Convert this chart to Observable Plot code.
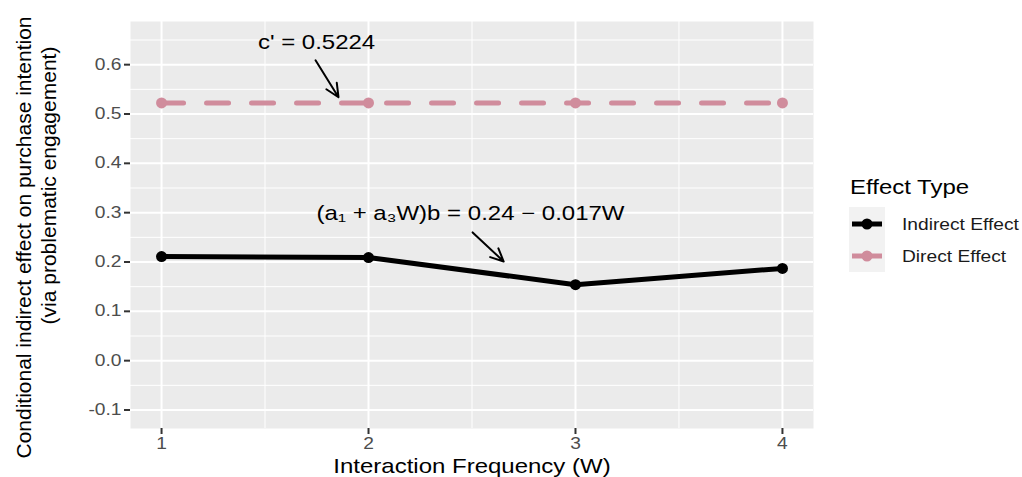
<!DOCTYPE html>
<html>
<head>
<meta charset="utf-8">
<script src="https://cdn.jsdelivr.net/npm/d3@7"></script>
<script src="https://cdn.jsdelivr.net/npm/@observablehq/plot@0.6"></script>
<style>
  html, body { margin: 0; padding: 0; background: white; }
  #wrap { position: relative; width: 1022px; height: 477px; font-family: "Liberation Sans", Arial, sans-serif; }
  #legend { position: absolute; left: 0; top: 0; pointer-events: none; }
</style>
</head>
<body>
<div id="wrap"></div>
<script>
// ---- data ----
const xValues = [1, 2, 3, 4];
const indirectValues = [0.211, 0.209, 0.154, 0.187];
const directValues = [0.5224, 0.5224, 0.5224, 0.5224];
const seriesNames = ["Indirect Effect", "Direct Effect"];
const seriesColors = ["#000000", "#D08C9C"];
const legendTitle = "Effect Type";
const xTicks = [1, 2, 3, 4];
const yTicks = [-0.1, 0, 0.1, 0.2, 0.3, 0.4, 0.5, 0.6];
const xMinorGrid = [1.5, 2.5, 3.5];
const yMinorGrid = [-0.05, 0.05, 0.15, 0.25, 0.35, 0.45, 0.55, 0.65];
const xTitle = "Interaction Frequency (W)";
const yTitleLines = ["Conditional indirect effect on purchase intention", "(via problematic engagement)"];
const annotationText = ["c' = 0.5224", "(a\u2081 + a\u2083W)b = 0.24 \u2212 0.017W"];
const annotationX = [1.749, 2.493];
const annotationY = [0.645, 0.298];
const arrowX1 = [1.744, 2.503];
const arrowY1 = [0.609, 0.260];
const arrowX2 = [1.855, 2.653];
const arrowY2 = [0.534, 0.201];

const indirectRows = xValues.map((x, i) => ({x, y: indirectValues[i]}));
const directRows = xValues.map((x, i) => ({x, y: directValues[i]}));

const stretch = 1.2;

const plot = Plot.plot({
  width: 1022,
  height: 477,
  marginLeft: 130,
  marginRight: 209,
  marginTop: 21,
  marginBottom: 49,
  style: {fontFamily: '"Liberation Sans", Arial, sans-serif', background: "white"},
  x: {domain: [0.85, 4.15]},
  y: {domain: [-0.1375, 0.6875]},
  marks: [
    Plot.frame({fill: "#EBEBEB", stroke: null}),
    Plot.gridY(yMinorGrid, {stroke: "white", strokeOpacity: 1, strokeWidth: 1}),
    Plot.gridX(xMinorGrid, {stroke: "white", strokeOpacity: 1, strokeWidth: 1}),
    Plot.gridY(yTicks, {stroke: "white", strokeOpacity: 1, strokeWidth: 2}),
    Plot.gridX(xTicks, {stroke: "white", strokeOpacity: 1, strokeWidth: 2}),
    Plot.axisY(yTicks, {tickSize: 6, tickPadding: 3, tickFormat: d => d.toFixed(1), fontSize: 16,
      stroke: "#333333", fill: "#4D4D4D", strokeWidth: 2, label: null}),
    Plot.axisX(xTicks, {tickSize: 6, tickPadding: 3, tickFormat: d => String(d), fontSize: 16,
      stroke: "#333333", fill: "#4D4D4D", strokeWidth: 2, label: null}),
    Plot.text([xTitle], {frameAnchor: "bottom", dy: 38, text: d => d, fontSize: 20, fill: "#000", lineAnchor: "middle", textAnchor: "middle"}),
    Plot.text([yTitleLines[0]], {frameAnchor: "left", rotate: -90, dx: -106, dy: 12.5, text: d => d, fontSize: 21, fill: "#000", lineAnchor: "middle", textAnchor: "middle"}),
    Plot.text([yTitleLines[1]], {frameAnchor: "left", rotate: -90, dx: -81, dy: -39.5, text: d => d, fontSize: 21, fill: "#000", lineAnchor: "middle", textAnchor: "middle"}),
    // series
    Plot.line(indirectRows, {x: "x", y: "y", stroke: seriesColors[0], strokeWidth: 5}),
    Plot.dot(indirectRows, {x: "x", y: "y", r: 5.5, fill: seriesColors[0], stroke: null}),
    Plot.line(directRows, {x: "x", y: "y", stroke: seriesColors[1], strokeWidth: 5, strokeDasharray: "22,23"}),
    Plot.dot(directRows, {x: "x", y: "y", r: 5.5, fill: seriesColors[1], stroke: null}),
    // annotations
    Plot.arrow(arrowX1, {x1: arrowX1, y1: arrowY1, x2: arrowX2, y2: arrowY2, stroke: "black", strokeWidth: 2, headLength: 12, headAngle: 50}),
    Plot.text(annotationText, {x: annotationX, y: annotationY, text: d => d, fontSize: 20, fill: "#000", lineAnchor: "middle"})
  ]
});

// horizontal stretch of horizontal texts to match reference
plot.querySelectorAll("text").forEach(t => {
  const tr = t.getAttribute("transform");
  if (tr && !tr.includes("rotate")) t.setAttribute("transform", tr + ` scale(${stretch},1)`);
});

const wrap = document.getElementById("wrap");
wrap.appendChild(plot);

// legend
const lg = d3.select(wrap).append("svg").attr("id", "legend").attr("width", 1022).attr("height", 477)
  .style("font-family", '"Liberation Sans", Arial, sans-serif');
lg.append("text").attr("transform", `translate(850,194) scale(${stretch},1)`)
  .attr("font-size", 20).attr("fill", "#000").text(legendTitle);
const rowY = [224, 256];
lg.append("rect").attr("x", 849).attr("y", 207).attr("width", 36).attr("height", 65).attr("fill", "#F2F2F2");
seriesNames.forEach((name, i) => {
  lg.append("line").attr("x1", 852).attr("x2", 882).attr("y1", rowY[i]).attr("y2", rowY[i])
    .attr("stroke", seriesColors[i]).attr("stroke-width", 5);
  lg.append("circle").attr("cx", 867).attr("cy", rowY[i]).attr("r", 5.5).attr("fill", seriesColors[i]);
  lg.append("text").attr("transform", `translate(902,${rowY[i]}) scale(${stretch},1)`)
    .attr("dy", "0.35em").attr("font-size", 16).attr("fill", "#1a1a1a").text(name);
});
</script>
</body>
</html>
